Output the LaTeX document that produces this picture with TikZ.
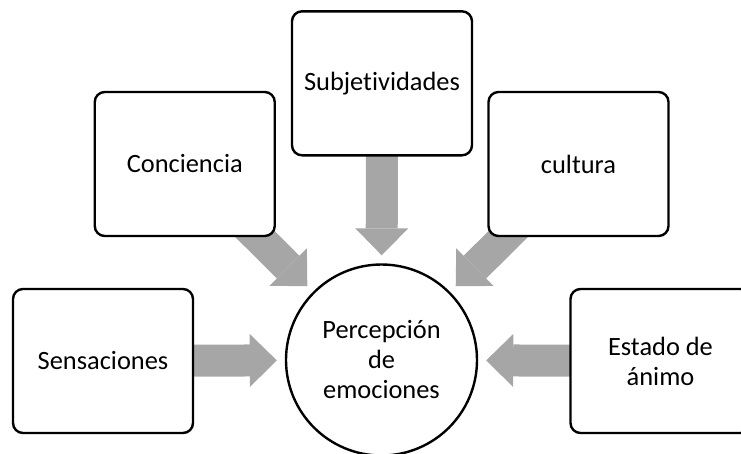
\documentclass[tikz,border=0pt]{standalone}
\usepackage{fontspec}
\setmainfont{Carlito}[Ligatures=NoCommon]
\usetikzlibrary{arrows.meta,backgrounds}
\definecolor{flechagris}{RGB}{166,166,166}
\newcommand{\letra}{\fontsize{26.4}{30}\selectfont}
\begin{document}
\begin{tikzpicture}[x=1pt,y=-1pt,
        caja/.style={draw,line width=2.4pt,rounded corners=10pt,fill=white,
            minimum width=180pt,minimum height=144pt,align=center,font=\letra},
        centro/.style={draw,circle,line width=2.4pt,fill=white,
            minimum size=191pt,inner sep=0pt,align=center,font=\letra},
        flecha/.style={draw=flechagris,line width=32pt,
            -{Triangle[length=27pt,width=53pt,line width=0pt]},
            shorten <=-30pt,shorten >=8pt}]
        \useasboundingbox (0,0) rectangle (741,453);
        \clip (0,0) rectangle (741,453);
        %% centre
        \node[centro] (perc) at (381.5,360) {Percepción\\de\\emociones};
        %% boxes
        \node[caja] (sens) at (103,361) {Sensaciones};
        \node[caja] (conc) at (184.75,164) {Conciencia};
        \node[caja] (subj) at (382,83.3) {Subjetividades};
        \node[caja] (cult) at (578.5,164) {cultura};
        \node[caja] (est) at (660.5,361) {Estado de\\ánimo};
        %% arrows
        \begin{pgfonlayer}{background}
            \draw[flecha] (sens) -- (perc);
            \draw[flecha] (conc) -- (perc);
            \draw[flecha] (subj) -- (perc);
            \draw[flecha] (cult) -- (perc);
            \draw[flecha] (est) -- (perc);
        \end{pgfonlayer}
    \end{tikzpicture}
\end{document}
